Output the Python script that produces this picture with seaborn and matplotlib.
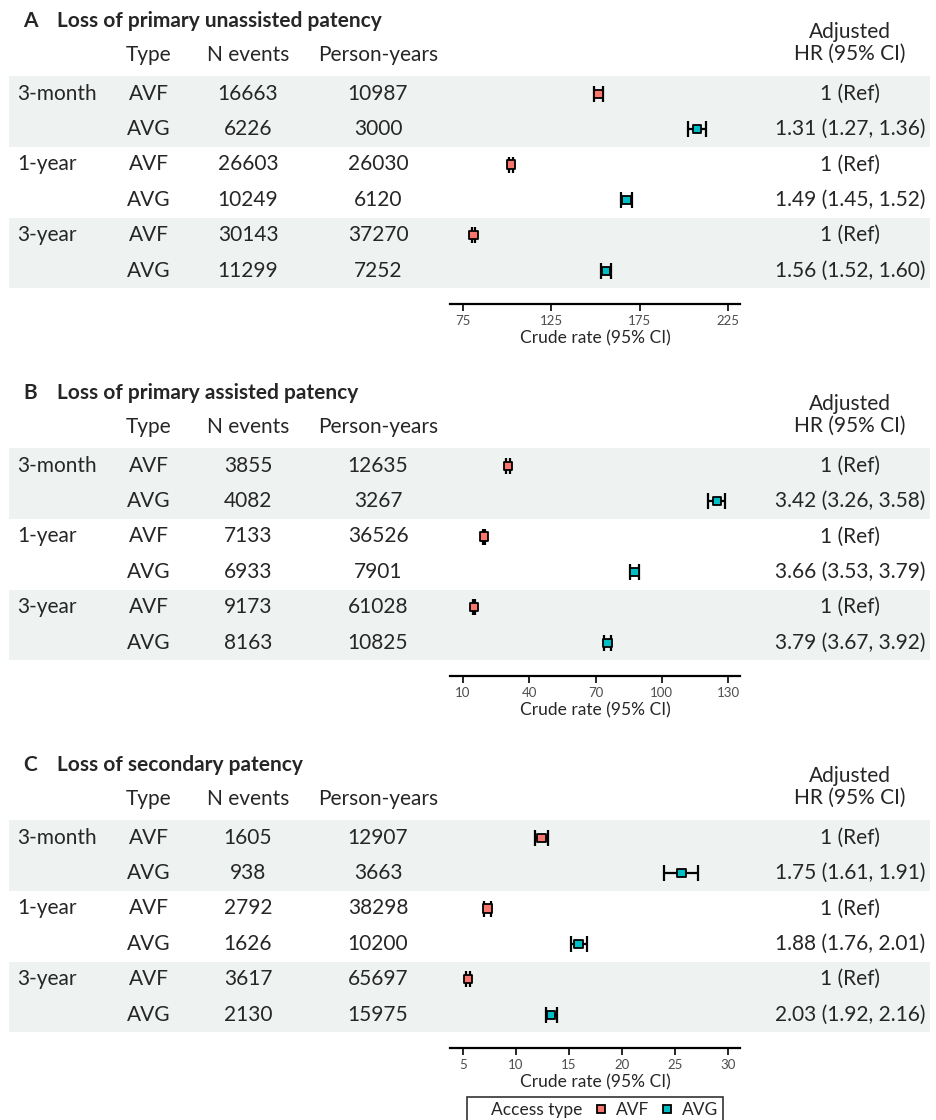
import matplotlib
matplotlib.use("Agg")
import matplotlib.pyplot as plt
from matplotlib.lines import Line2D
import pandas as pd
import seaborn as sns

# table values
periods = ["3-month", "1-year", "3-year"]
types = ["AVF", "AVG", "AVF", "AVG", "AVF", "AVG"]

titles = ["Loss of primary unassisted patency",
          "Loss of primary assisted patency",
          "Loss of secondary patency"]
letters = ["A", "B", "C"]

a_events = [16663, 6226, 26603, 10249, 30143, 11299]
a_pyears = [10987, 3000, 26030, 6120, 37270, 7252]
a_rate = [151.7, 207.5, 102.2, 167.5, 80.9, 155.8]
a_lo = [149.4, 202.4, 101.0, 164.2, 80.0, 152.9]
a_hi = [154.0, 212.7, 103.4, 170.7, 81.8, 158.7]
a_hr = ["1 (Ref)", "1.31 (1.27, 1.36)", "1 (Ref)", "1.49 (1.45, 1.52)",
        "1 (Ref)", "1.56 (1.52, 1.60)"]
a_ticks = [75, 125, 175, 225]

b_events = [3855, 4082, 7133, 6933, 9173, 8163]
b_pyears = [12635, 3267, 36526, 7901, 61028, 10825]
b_rate = [30.5, 125.0, 19.5, 87.7, 15.0, 75.4]
b_lo = [29.5, 121.1, 19.1, 85.7, 14.7, 73.8]
b_hi = [31.5, 128.8, 20.0, 89.8, 15.3, 77.0]
b_hr = ["1 (Ref)", "3.42 (3.26, 3.58)", "1 (Ref)", "3.66 (3.53, 3.79)",
        "1 (Ref)", "3.79 (3.67, 3.92)"]
b_ticks = [10, 40, 70, 100, 130]

c_events = [1605, 938, 2792, 1626, 3617, 2130]
c_pyears = [12907, 3663, 38298, 10200, 65697, 15975]
c_rate = [12.4, 25.6, 7.3, 15.9, 5.5, 13.3]
c_lo = [11.8, 24.0, 7.0, 15.2, 5.3, 12.8]
c_hi = [13.0, 27.2, 7.6, 16.7, 5.7, 13.9]
c_hr = ["1 (Ref)", "1.75 (1.61, 1.91)", "1 (Ref)", "1.88 (1.76, 2.01)",
        "1 (Ref)", "2.03 (1.92, 2.16)"]
c_ticks = [5, 10, 15, 20, 25, 30]

palette = {"AVF": "#F8766D", "AVG": "#00BFC4"}
band_col = "#EEF2F0"

sns.set_theme(style="white")
plt.rcParams["font.family"] = ["Lato", "DejaVu Sans"]

W, H = 937, 1120
fig = plt.figure(figsize=(W / 100, H / 100), dpi=100)

# background axes in pixel units, for the table part
bg = fig.add_axes([0, 0, 1, 1], zorder=0)
bg.set_xlim(0, W)
bg.set_ylim(H, 0)
bg.axis("off")

panels = [
    (a_events, a_pyears, a_rate, a_lo, a_hi, a_hr, a_ticks),
    (b_events, b_pyears, b_rate, b_lo, b_hi, b_hr, b_ticks),
    (c_events, c_pyears, c_rate, c_lo, c_hi, c_hr, c_ticks),
]

fs = 15
row_h = 35.4
for p, (ev, py, rate, lo, hi, hr, ticks) in enumerate(panels):
    o = 372 * p
    top = 76 + o

    # title and header
    bg.text(23, 21 + o, letters[p], fontsize=fs, fontweight="bold", va="center")
    bg.text(57, 21 + o, titles[p], fontsize=fs, fontweight="bold", va="center")
    bg.text(149, 55 + o, "Type", fontsize=fs, ha="center", va="center")
    bg.text(248, 55 + o, "N events", fontsize=fs, ha="center", va="center")
    bg.text(378, 55 + o, "Person-years", fontsize=fs, ha="center", va="center")
    bg.text(850, 32 + o, "Adjusted", fontsize=fs, ha="center", va="center")
    bg.text(850, 54 + o, "HR (95% CI)", fontsize=fs, ha="center", va="center")

    # shaded bands
    for k in (0, 2):
        bg.axhspan(top + 2 * k * row_h, top + 2 * (k + 1) * row_h,
                   xmin=9 / W, xmax=930 / W, color=band_col, lw=0)

    for i in range(6):
        y = top + row_h * (i + 0.5)
        if i % 2 == 0:
            bg.text(17, y, periods[i // 2], fontsize=fs, va="center")
        bg.text(149, y, types[i], fontsize=fs, ha="center", va="center")
        bg.text(248, y, str(ev[i]), fontsize=fs, ha="center", va="center")
        bg.text(378, y, str(py[i]), fontsize=fs, ha="center", va="center")
        bg.text(850, y, hr[i], fontsize=fs, ha="center", va="center")

    # forest part
    ax = fig.add_axes([450 / W, 1 - (top + 6 * row_h) / H, 290 / W, 6 * row_h / H],
                      zorder=2)
    ax.patch.set_alpha(0)
    df = pd.DataFrame({"rate": rate, "lo": lo, "hi": hi,
                       "type": types, "row": range(6)})
    ax.errorbar(df["rate"], df["row"],
                xerr=[df["rate"] - df["lo"], df["hi"] - df["rate"]],
                fmt="none", ecolor="black", elinewidth=1.6, capsize=6,
                capthick=1.6, zorder=2)
    sns.scatterplot(data=df, x="rate", y="row", hue="type", palette=palette,
                    marker="s", s=36, edgecolor="black", linewidth=1.3,
                    legend=False, zorder=3, ax=ax)
    span = ticks[-1] - ticks[0]
    ax.set_xlim(ticks[0] - span * 0.049, ticks[-1] + span * 0.045)
    ax.set_ylim(5.5, -0.5)
    ax.set_xticks(ticks)
    ax.set_yticks([])
    ax.set_ylabel("")
    ax.set_xlabel("Crude rate (95% CI)", fontsize=12.5, labelpad=2)
    for s in ("left", "top", "right"):
        ax.spines[s].set_visible(False)
    ax.spines["bottom"].set_position(("outward", 11))
    ax.spines["bottom"].set_linewidth(1.6)
    ax.spines["bottom"].set_color("black")
    ax.tick_params(axis="x", bottom=True, direction="out", length=5, width=1.2,
                   color="black", labelsize=9.5, labelcolor="#4D4D4D", pad=3.5)

# legend at the bottom
handles = [Line2D([], [], linestyle="none"),
           Line2D([], [], linestyle="none", marker="s", markersize=6,
                  markerfacecolor=palette["AVF"], markeredgecolor="black",
                  markeredgewidth=1.3),
           Line2D([], [], linestyle="none", marker="s", markersize=6,
                  markerfacecolor=palette["AVG"], markeredgecolor="black",
                  markeredgewidth=1.3)]
leg = fig.legend(handles, ["Access type", "AVF", "AVG"], ncol=3,
                 loc="upper center", bbox_to_anchor=(595 / W, 1 - 1097 / H),
                 fontsize=12.5, frameon=True, fancybox=False, handlelength=0.5,
                 handletextpad=0.6, columnspacing=0.8, borderpad=0.3,
                 borderaxespad=0)
leg.get_frame().set_edgecolor("black")
leg.get_frame().set_linewidth(1.2)

fig.savefig("out.png", dpi=100)
